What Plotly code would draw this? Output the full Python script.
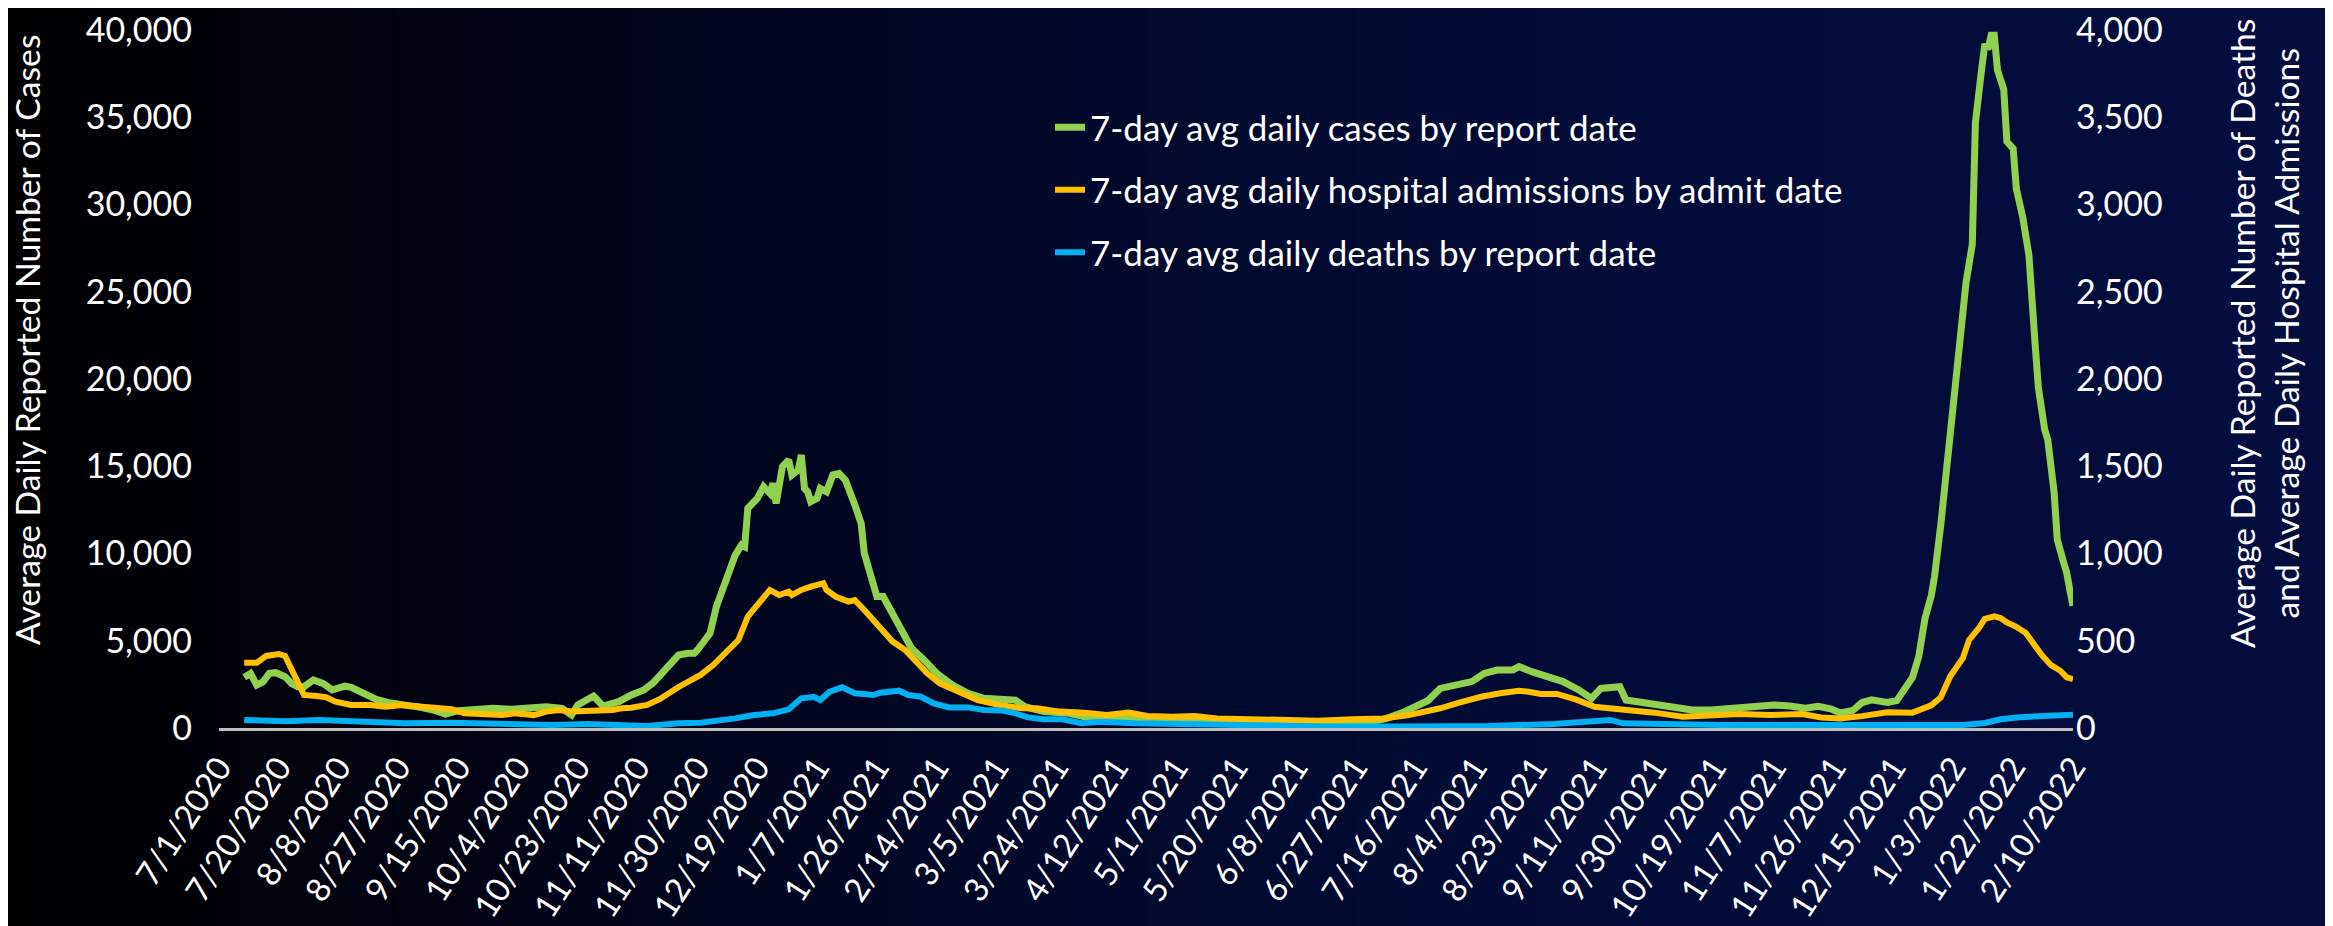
import plotly.graph_objects as go

# values (7-day averages)
case_dates = [
    "2020-07-09", "2020-07-11", "2020-07-13", "2020-07-15", "2020-07-17", "2020-07-19", "2020-07-22",
    "2020-07-24", "2020-07-26", "2020-07-28", "2020-07-31", "2020-08-03", "2020-08-06", "2020-08-10",
    "2020-08-12", "2020-08-16", "2020-08-20", "2020-08-24", "2020-08-28", "2020-09-03", "2020-09-07",
    "2020-09-11", "2020-09-15", "2020-09-22", "2020-09-26", "2020-10-02", "2020-10-07", "2020-10-13",
    "2020-10-18", "2020-10-21", "2020-10-23", "2020-10-26", "2020-10-28", "2020-10-31", "2020-11-03",
    "2020-11-05", "2020-11-09", "2020-11-13", "2020-11-16", "2020-11-19", "2020-11-21", "2020-11-24",
    "2020-11-27", "2020-11-29", "2020-11-30", "2020-12-02", "2020-12-04", "2020-12-06", "2020-12-08",
    "2020-12-10", "2020-12-12", "2020-12-14", "2020-12-15", "2020-12-16", "2020-12-19", "2020-12-21",
    "2020-12-23", "2020-12-24", "2020-12-25", "2020-12-27", "2020-12-29", "2020-12-30", "2021-01-01",
    "2021-01-02", "2021-01-03", "2021-01-04", "2021-01-05", "2021-01-07", "2021-01-08", "2021-01-10",
    "2021-01-12", "2021-01-14", "2021-01-16", "2021-01-19", "2021-01-21", "2021-01-22", "2021-01-24",
    "2021-01-26", "2021-01-28", "2021-01-31", "2021-02-03", "2021-02-06", "2021-02-10", "2021-02-14",
    "2021-02-19", "2021-02-24", "2021-03-01", "2021-03-07", "2021-03-11", "2021-03-14", "2021-03-20",
    "2021-03-28", "2021-04-02", "2021-04-07", "2021-04-16", "2021-04-20", "2021-04-28", "2021-05-09",
    "2021-05-20", "2021-05-30", "2021-06-10", "2021-06-20", "2021-07-01", "2021-07-07", "2021-07-12",
    "2021-07-16", "2021-07-20", "2021-07-24", "2021-07-28", "2021-08-03", "2021-08-07", "2021-08-11",
    "2021-08-16", "2021-08-18", "2021-08-22", "2021-08-26", "2021-09-01", "2021-09-06", "2021-09-10",
    "2021-09-13", "2021-09-17", "2021-09-19", "2021-09-21", "2021-09-25", "2021-09-30", "2021-10-07",
    "2021-10-12", "2021-10-18", "2021-10-27", "2021-11-02", "2021-11-07", "2021-11-12", "2021-11-17",
    "2021-11-21", "2021-11-25", "2021-11-28", "2021-12-02", "2021-12-05", "2021-12-08", "2021-12-13",
    "2021-12-16", "2021-12-18", "2021-12-21", "2021-12-23", "2021-12-24", "2021-12-25", "2021-12-27",
    "2021-12-28", "2021-12-30", "2022-01-01", "2022-01-02", "2022-01-04", "2022-01-06", "2022-01-07",
    "2022-01-09", "2022-01-10", "2022-01-12", "2022-01-13", "2022-01-14", "2022-01-15", "2022-01-16",
    "2022-01-17", "2022-01-19", "2022-01-20", "2022-01-22", "2022-01-23", "2022-01-25", "2022-01-27",
    "2022-01-29", "2022-01-30", "2022-02-01", "2022-02-02", "2022-02-04", "2022-02-05", "2022-02-07",
    "2022-02-08", "2022-02-09", "2022-02-10",
]
case_values = [
    2900, 3130, 2460, 2650, 3130, 3170, 2940,
    2560, 2370, 2370, 2750, 2560, 2180, 2400,
    2330, 1990, 1640, 1450, 1380, 1180, 1030,
    800, 990, 1070, 1130, 1070, 1130, 1220,
    1130, 750, 1320, 1570, 1830, 1260, 1410,
    1510, 1890, 2180, 2600, 3230, 3510, 4180,
    4280, 4280, 4470, 4950, 5430, 6950, 7910,
    8960, 9910, 10490, 10390, 12590, 13160, 13830,
    13450, 14020, 12870, 14980, 15360, 14500, 14780,
    15640, 13730, 13540, 12970, 13160, 13730, 13540,
    14500, 14590, 14210, 12780, 11730, 10010, 8860,
    7530, 7530, 6570, 5620, 4570, 3900, 3130,
    2460, 1990, 1700, 1700, 1600, 1220, 940,
    840, 650, 650, 610, 460, 420, 420,
    420, 360, 310, 310, 310, 550, 880,
    1220, 1560, 2270, 2460, 2660, 3130, 3320,
    3320, 3520, 3230, 3040, 2660, 2180, 1700,
    2270, 2270, 2370, 1600, 1510, 1380, 1180,
    1030, 1030, 1130, 1260, 1320, 1260, 1130,
    1240, 1100, 870, 1000, 1460, 1610, 1470,
    1570, 2100, 2900, 4100, 5100, 6300, 7600,
    8670, 11650, 15000, 17500, 20800, 23700, 25500,
    27700, 34700, 37800, 39200, 38900, 39700, 39700,
    37700, 36600, 33600, 33200, 30900, 29300, 27100,
    21900, 19500, 17100, 16500, 13500, 10800, 9500,
    8900, 7900, 7000,
]

adm_dates = [
    "2020-07-09", "2020-07-13", "2020-07-16", "2020-07-20", "2020-07-22", "2020-07-25", "2020-07-28",
    "2020-08-01", "2020-08-04", "2020-08-07", "2020-08-12", "2020-08-18", "2020-08-23", "2020-08-28",
    "2020-09-03", "2020-09-09", "2020-09-13", "2020-09-17", "2020-09-24", "2020-09-29", "2020-10-03",
    "2020-10-09", "2020-10-13", "2020-10-17", "2020-10-21", "2020-10-26", "2020-10-30", "2020-11-03",
    "2020-11-06", "2020-11-09", "2020-11-14", "2020-11-18", "2020-11-24", "2020-12-01", "2020-12-05",
    "2020-12-09", "2020-12-13", "2020-12-16", "2020-12-20", "2020-12-23", "2020-12-26", "2020-12-29",
    "2020-12-30", "2021-01-02", "2021-01-05", "2021-01-09", "2021-01-10", "2021-01-13", "2021-01-17",
    "2021-01-19", "2021-01-22", "2021-01-25", "2021-01-28", "2021-01-31", "2021-02-04", "2021-02-07",
    "2021-02-11", "2021-02-15", "2021-02-21", "2021-02-27", "2021-03-06", "2021-03-13", "2021-03-18",
    "2021-03-25", "2021-04-02", "2021-04-09", "2021-04-16", "2021-04-22", "2021-04-30", "2021-05-07",
    "2021-05-14", "2021-05-25", "2021-06-04", "2021-06-15", "2021-06-26", "2021-07-06", "2021-07-14",
    "2021-07-20", "2021-07-24", "2021-07-30", "2021-08-06", "2021-08-12", "2021-08-18", "2021-08-21",
    "2021-08-25", "2021-08-30", "2021-09-05", "2021-09-11", "2021-09-17", "2021-09-24", "2021-09-30",
    "2021-10-09", "2021-10-16", "2021-10-27", "2021-11-06", "2021-11-16", "2021-11-22", "2021-11-28",
    "2021-12-05", "2021-12-13", "2021-12-21", "2021-12-24", "2021-12-27", "2021-12-30", "2022-01-02",
    "2022-01-06", "2022-01-08", "2022-01-11", "2022-01-13", "2022-01-16", "2022-01-18", "2022-01-20",
    "2022-01-23", "2022-01-26", "2022-01-29", "2022-01-31", "2022-02-03", "2022-02-06", "2022-02-08",
    "2022-02-10",
]
adm_values = [
    374, 374, 413, 424, 413, 294, 189,
    183, 176, 151, 132, 132, 122, 132,
    122, 118, 107, 84, 74, 74, 84,
    74, 94, 103, 94, 98, 94, 103,
    113, 116, 132, 165, 235, 304, 361,
    428, 504, 638, 724, 791, 762, 781,
    762, 791, 810, 829, 791, 752, 724,
    733, 676, 619, 552, 495, 447, 390,
    313, 256, 208, 160, 132, 113, 113,
    94, 88, 74, 88, 69, 65, 69,
    55, 50, 42, 42, 50, 55, 74,
    94, 113, 145, 179, 199, 214, 208,
    195, 195, 164, 122, 113, 99, 88,
    65, 74, 80, 74, 80, 60, 55,
    68, 90, 88, 110, 130, 176, 296,
    400, 505, 570, 625, 640, 630, 605,
    580, 545, 465, 420, 360, 328, 290,
    280,
]

death_dates = [
    "2020-07-09", "2020-07-22", "2020-08-02", "2020-08-12", "2020-08-23", "2020-08-29", "2020-09-13",
    "2020-09-24", "2020-10-04", "2020-10-15", "2020-10-26", "2020-11-05", "2020-11-14", "2020-11-24",
    "2020-12-01", "2020-12-12", "2020-12-18", "2020-12-24", "2020-12-29", "2021-01-02", "2021-01-06",
    "2021-01-08", "2021-01-11", "2021-01-15", "2021-01-19", "2021-01-25", "2021-01-27", "2021-02-02",
    "2021-02-05", "2021-02-09", "2021-02-13", "2021-02-18", "2021-02-24", "2021-03-01", "2021-03-07",
    "2021-03-11", "2021-03-15", "2021-03-20", "2021-03-26", "2021-04-01", "2021-04-07", "2021-04-18",
    "2021-04-28", "2021-05-09", "2021-05-30", "2021-06-20", "2021-07-12", "2021-07-31", "2021-08-08",
    "2021-08-29", "2021-09-11", "2021-09-16", "2021-09-20", "2021-09-30", "2021-10-21", "2021-11-12",
    "2021-12-05", "2022-01-06", "2022-01-13", "2022-01-18", "2022-01-24", "2022-02-03", "2022-02-10",
]
death_values = [
    46, 38, 46, 41, 38, 27, 30,
    27, 21, 17, 23, 21, 11, 27,
    30, 55, 74, 84, 107, 170, 179,
    160, 208, 233, 199, 189, 202, 214,
    189, 179, 141, 118, 118, 103, 100,
    84, 61, 50, 50, 27, 36, 27,
    23, 17, 11, 8, 8, 11, 11,
    23, 36, 46, 27, 23, 17, 17,
    17, 17, 29, 50, 62, 70, 76,
]

series_names = [
    "7-day avg daily cases by report date",
    "7-day avg daily hospital admissions by admit date",
    "7-day avg daily deaths by report date",
]
left_title = "Average Daily Reported Number of Cases"
right_title = "Average Daily Reported Number of Deaths<br>and Average Daily Hospital Admissions"

FONT = "Lato, 'Open Sans', sans-serif"
W, H = 2333, 926
# the page puts the figure 8px in from the top-left corner, so aim 8px short
OFF = 8
ML, MT = 219 - OFF, 30 - OFF
MR, MB = W - (2073 - OFF), H - (728 - OFF)
PW = W - ML - MR
PH = H - MT - MB


def px_x(px):
    return (px - OFF - ML) / PW


def px_y(py):
    return 1 - (py - OFF - MT) / PH


fig = go.Figure()
fig.add_trace(go.Scatter(x=case_dates, y=case_values, name=series_names[0], mode="lines",
                         line=dict(color="#92D050", width=7), legendgroup="g1"))
fig.add_trace(go.Scatter(x=adm_dates, y=adm_values, name=series_names[1], mode="lines", yaxis="y2",
                         line=dict(color="#FFC000", width=6), legendgroup="g2"))
fig.add_trace(go.Scatter(x=death_dates, y=death_values, name=series_names[2], mode="lines", yaxis="y2",
                         line=dict(color="#00B0F0", width=6), legendgroup="g3"))

# background: black on the left fading into dark navy on the right
stops = [(0.0, (0, 0, 0)), (0.2, (1, 3, 20)), (0.45, (2, 8, 42)), (0.7, (3, 11, 56)), (1.0, (4, 13, 62))]


def grad(t):
    for (t0, c0), (t1, c1) in zip(stops[:-1], stops[1:]):
        if t <= t1:
            f = (t - t0) / (t1 - t0)
            return "rgb(%d,%d,%d)" % tuple(round(a + (b - a) * f) for a, b in zip(c0, c1))
    return "rgb(%d,%d,%d)" % stops[-1][1]


n_strips = 90
strip = W / n_strips
for i in range(n_strips):
    fig.add_shape(type="rect", xref="paper", yref="paper", layer="below",
                  x0=(i * strip - 1 - ML) / PW, x1=((i + 1) * strip + 1 - ML) / PW,
                  y0=1 - (H + 2 - MT) / PH, y1=1 - (-2 - MT) / PH,
                  fillcolor=grad((i + 0.5) / n_strips), line=dict(width=0))

fig.add_annotation(text=left_title, textangle=-90, xref="paper", yref="paper",
                   x=px_x(27), y=px_y(340), xanchor="center", yanchor="middle", showarrow=False,
                   font=dict(family=FONT, size=33.7, color="white"))
fig.add_annotation(text=right_title, textangle=-90, xref="paper", yref="paper",
                   x=px_x(2264), y=px_y(334), xanchor="center", yanchor="middle", showarrow=False,
                   font=dict(family=FONT, size=33.7, color="white"))

fig.update_layout(
    width=W, height=H,
    margin=dict(l=ML, r=MR, t=MT, b=MB, autoexpand=False),
    paper_bgcolor="#000000", plot_bgcolor="rgba(0,0,0,0)",
    font=dict(family=FONT, size=33, color="white"),
    showlegend=True,
    legend=dict(x=px_x(1050), y=px_y(98), xanchor="left", yanchor="top",
                bgcolor="rgba(0,0,0,0)", font=dict(size=35, color="white"),
                tracegroupgap=14),
    xaxis=dict(
        type="date", range=["2020-07-01", "2022-02-10"], automargin=False,
        tick0="2020-07-01", dtick=19 * 86400000, tickformat="%-m/%-d/%Y",
        tickangle=-57, ticks="", showgrid=False, zeroline=False,
        showline=True, linecolor="#BFBFBF", linewidth=2.5, layer="below traces",
        ticklabelstandoff=4, ticklabeloverflow="allow", tickfont=dict(size=33, color="white"),
    ),
    yaxis=dict(
        range=[0, 40000], dtick=5000, tickformat=",", showgrid=False, zeroline=False,
        automargin=False, ticks="", ticklabelstandoff=26, ticklabeloverflow="allow",
        tickfont=dict(size=34, color="white"),
    ),
    yaxis2=dict(
        range=[0, 4000], dtick=500, tickformat=",", showgrid=False, zeroline=False,
        automargin=False, overlaying="y", side="right", ticks="", ticklabelstandoff=2,
        ticklabeloverflow="allow", tickfont=dict(size=34, color="white"),
    ),
)

fig.write_html("out.html")
